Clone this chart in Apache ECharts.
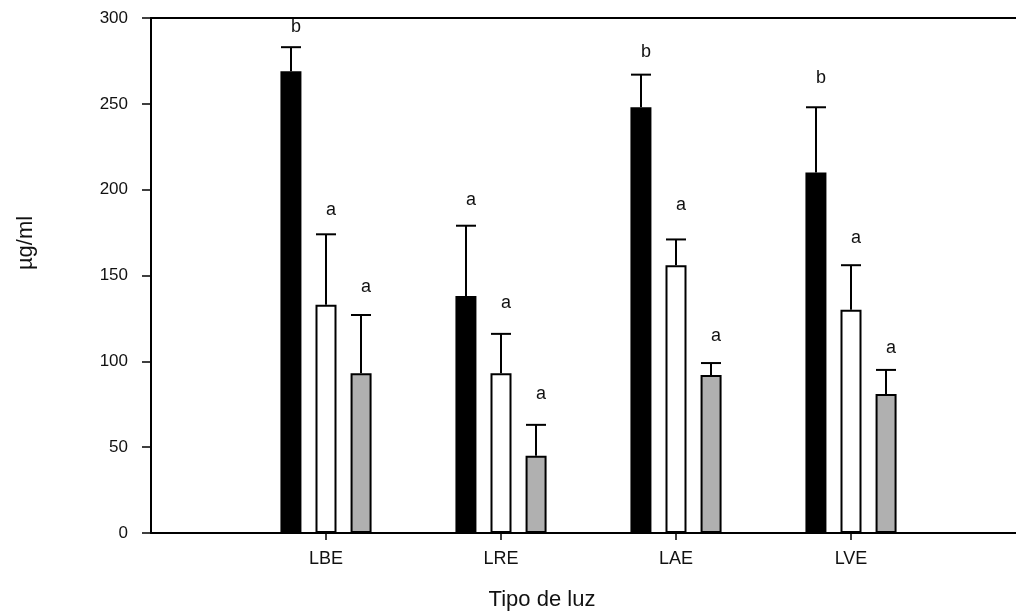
<!DOCTYPE html>
<html>
<head>
<meta charset="utf-8">
<script src="https://cdn.jsdelivr.net/npm/echarts@6/dist/echarts.min.js"></script>
<style>html,body{margin:0;padding:0;background:#fff}#c{width:1016px;height:615px}</style>
</head>
<body>
<div id="c"></div>
<script>
const categories = ['LBE', 'LRE', 'LAE', 'LVE'];
const yTicks = [0, 50, 100, 150, 200, 250, 300];

const blackMean = [269, 138, 248, 210];
const blackErr = [14, 41, 19, 38];
const blackLetters = ['b', 'a', 'b', 'b'];
const blackLetterY = [295, 194, 280, 265];

const whiteMean = [133, 93, 156, 130];
const whiteErr = [41, 23, 15, 26];
const whiteLetters = ['a', 'a', 'a', 'a'];
const whiteLetterY = [188, 134, 191, 172];

const grayMean = [93, 45, 92, 81];
const grayErr = [34, 18, 7, 14];
const grayLetters = ['a', 'a', 'a', 'a'];
const grayLetterY = [143, 81, 115, 108];

const FONT = '"Liberation Sans", Arial, sans-serif';
const xData = [''].concat(categories, ['']);
const pad = arr => [null].concat(arr, [null]);

const groups = [
  { mean: blackMean, err: blackErr, letters: blackLetters, ly: blackLetterY, offset: -35,
    style: { color: '#000', borderColor: '#000', borderWidth: 0 } },
  { mean: whiteMean, err: whiteErr, letters: whiteLetters, ly: whiteLetterY, offset: 0,
    style: { color: '#fff', borderColor: '#000', borderWidth: 2 } },
  { mean: grayMean, err: grayErr, letters: grayLetters, ly: grayLetterY, offset: 35,
    style: { color: '#b0b0b0', borderColor: '#000', borderWidth: 2 } }
];

const series = [];
groups.forEach(g => {
  series.push({
    type: 'bar', barWidth: 21, barGap: '67%',
    data: pad(g.mean), itemStyle: g.style, silent: true, z: 2
  });
});
groups.forEach(g => {
  const d = categories.map((c, i) => [i + 1, g.mean[i], g.err[i], g.ly[i]]);
  series.push({
    type: 'custom', z: 3, silent: true,
    data: d,
    renderItem: function (params, api) {
      const idx = api.value(0);
      const m = api.value(1), e = api.value(2), ly = api.value(3);
      const letter = g.letters[params.dataIndex];
      const base = api.coord([idx, m]);
      const top = api.coord([idx, m + e]);
      const lp = api.coord([idx, ly]);
      const x = base[0] + g.offset;
      return {
        type: 'group',
        children: [
          { type: 'line', shape: { x1: x, y1: base[1], x2: x, y2: top[1] }, style: { stroke: '#000', lineWidth: 2 } },
          { type: 'line', shape: { x1: x - 10, y1: top[1], x2: x + 10, y2: top[1] }, style: { stroke: '#000', lineWidth: 2 } },
          { type: 'text', x: x + 5, y: lp[1], style: { text: letter, font: '18px ' + FONT, fill: '#111', align: 'center', verticalAlign: 'middle' } }
        ]
      };
    }
  });
});

const chart = echarts.init(document.getElementById('c'), null, { renderer: 'canvas' });
chart.setOption({
  animation: false,
  backgroundColor: '#fff',
  grid: { left: 151, top: 18, width: 875, height: 515, containLabel: false, outerBoundsMode: 'none' },
  xAxis: [{
    type: 'category', data: xData, boundaryGap: false, position: 'bottom',
    axisLine: { lineStyle: { color: '#000', width: 2 } },
    axisTick: { show: true, length: 7, lineStyle: { color: '#000', width: 1.5 },
      interval: (i, v) => v !== '' },
    axisLabel: { color: '#111', fontSize: 18, fontFamily: FONT, margin: 17,
      interval: 0, formatter: v => v },
    splitLine: { show: false }
  }, {
    type: 'category', data: xData, boundaryGap: false, position: 'top',
    axisLine: { lineStyle: { color: '#000', width: 2 } },
    axisTick: { show: false }, axisLabel: { show: false }, splitLine: { show: false }
  }],
  yAxis: {
    type: 'value', min: yTicks[0], max: yTicks[yTicks.length - 1], interval: 50,
    axisLine: { show: true, lineStyle: { color: '#000', width: 2 } },
    axisTick: { show: true, length: 9, inside: false, lineStyle: { color: '#000', width: 1.5 } },
    axisLabel: { color: '#111', fontSize: 17, fontFamily: FONT, margin: 23 },
    splitLine: { show: false }
  },
  graphic: [
    { type: 'text', x: 542, y: 600,
      style: { text: 'Tipo de luz', font: '22px ' + FONT, fill: '#111', align: 'center', verticalAlign: 'middle' } },
    { type: 'text', x: 26, y: 243, rotation: Math.PI / 2,
      style: { text: 'µg/ml', font: '22px ' + FONT, fill: '#111', align: 'center', verticalAlign: 'middle' } }
  ],
  series: series
});
</script>
</body>
</html>
